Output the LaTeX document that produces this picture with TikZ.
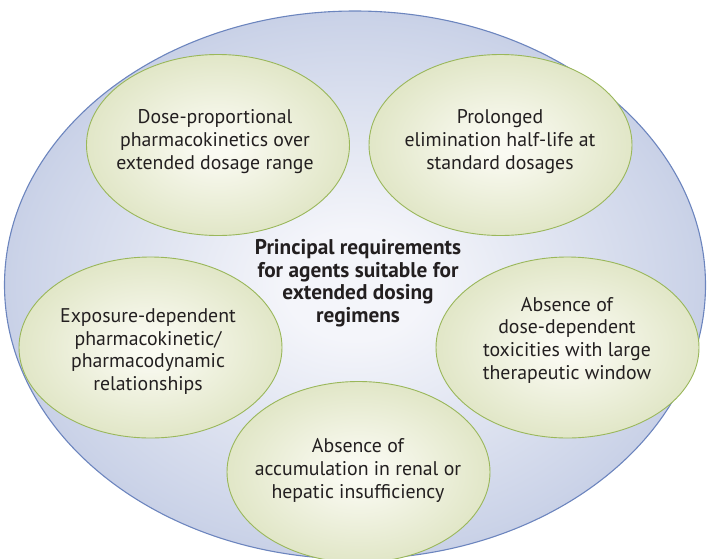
\documentclass[tikz,border=0pt]{standalone}
\usepackage{fontspec}
\setmainfont{PT Sans}
\usetikzlibrary{shapes.geometric}

% palette
\definecolor{ringin}{HTML}{F4F5FA}
\definecolor{ringmid}{HTML}{CBD3E8}
\definecolor{ringout}{HTML}{A6B3D5}
\definecolor{ringline}{HTML}{6C85BE}
\definecolor{leafin}{HTML}{FAFAF2}
\definecolor{leafout}{HTML}{D0D9AA}
\definecolor{leafline}{HTML}{9AB75A}
\definecolor{ink}{HTML}{231F20}

% soft radial fills for the outer disc and the five ovals
\pgfdeclareradialshading{ringglow}{\pgfpoint{0bp}{0bp}}{color(0bp)=(ringin); color(5bp)=(ringin); color(24bp)=(ringmid); color(38bp)=(ringout); color(50bp)=(ringout)}
\pgfdeclareradialshading{leafglow}{\pgfpoint{0bp}{0bp}}{color(0bp)=(leafin); color(3bp)=(leafin); color(40bp)=(leafout); color(50bp)=(leafout)}

\begin{document}
\begin{tikzpicture}[x=1pt,y=-1pt,
  leaf/.style={ellipse, draw=leafline, line width=0.9pt, shading=leafglow,
    minimum width=263pt, minimum height=181pt, inner sep=0pt},
  leaftext/.style={align=center, text=ink, inner sep=0pt,
    font=\fontsize{19.8}{22.7}\selectfont},
  hubtext/.style={align=center, text=ink, inner sep=0pt,
    font=\bfseries\fontsize{21.3}{22.6}\selectfont}]
\useasboundingbox (0,0) rectangle (707,558);
\clip (0,0) rectangle (707,558);

% outer disc
\node[ellipse, draw=ringline, line width=1.1pt, shading=ringglow,
  minimum width=701pt, minimum height=548pt, inner sep=0pt] (ring) at (355,285) {};

% five requirement ovals
\node[leaf] (dose)  at (218,145) {};
\node[leaf] (half)  at (500.5,145) {};
\node[leaf] (expo)  at (150.5,347.5) {};
\node[leaf] (toxic) at (567.5,347.5) {};
\node[leaf] (accum) at (358.5,472) {};

% labels
\node[leaftext] (tdose) at (215,141.5) {Dose-proportional\\pharmacokinetics over\\extended dosage range};
\node[leaftext] (thalf) at (500,141.5) {Prolonged\\elimination half-life at\\standard dosages};
\node[leaftext] (texpo) at (148,351.5) {Exposure-dependent\\pharmacokinetic/\\pharmacodynamic\\relationships};
\node[leaftext] (ttoxic) at (567,340) {Absence of\\dose-dependent\\toxicities with large\\therapeutic window};
\node[leaftext] (taccum) at (358,470.5) {Absence of\\accumulation in renal or\\hepatic insufficiency};

\node[hubtext] (hub) at (358,283) {Principal requirements\\for agents suitable for\\extended dosing\\regimens};
\end{tikzpicture}
\end{document}
